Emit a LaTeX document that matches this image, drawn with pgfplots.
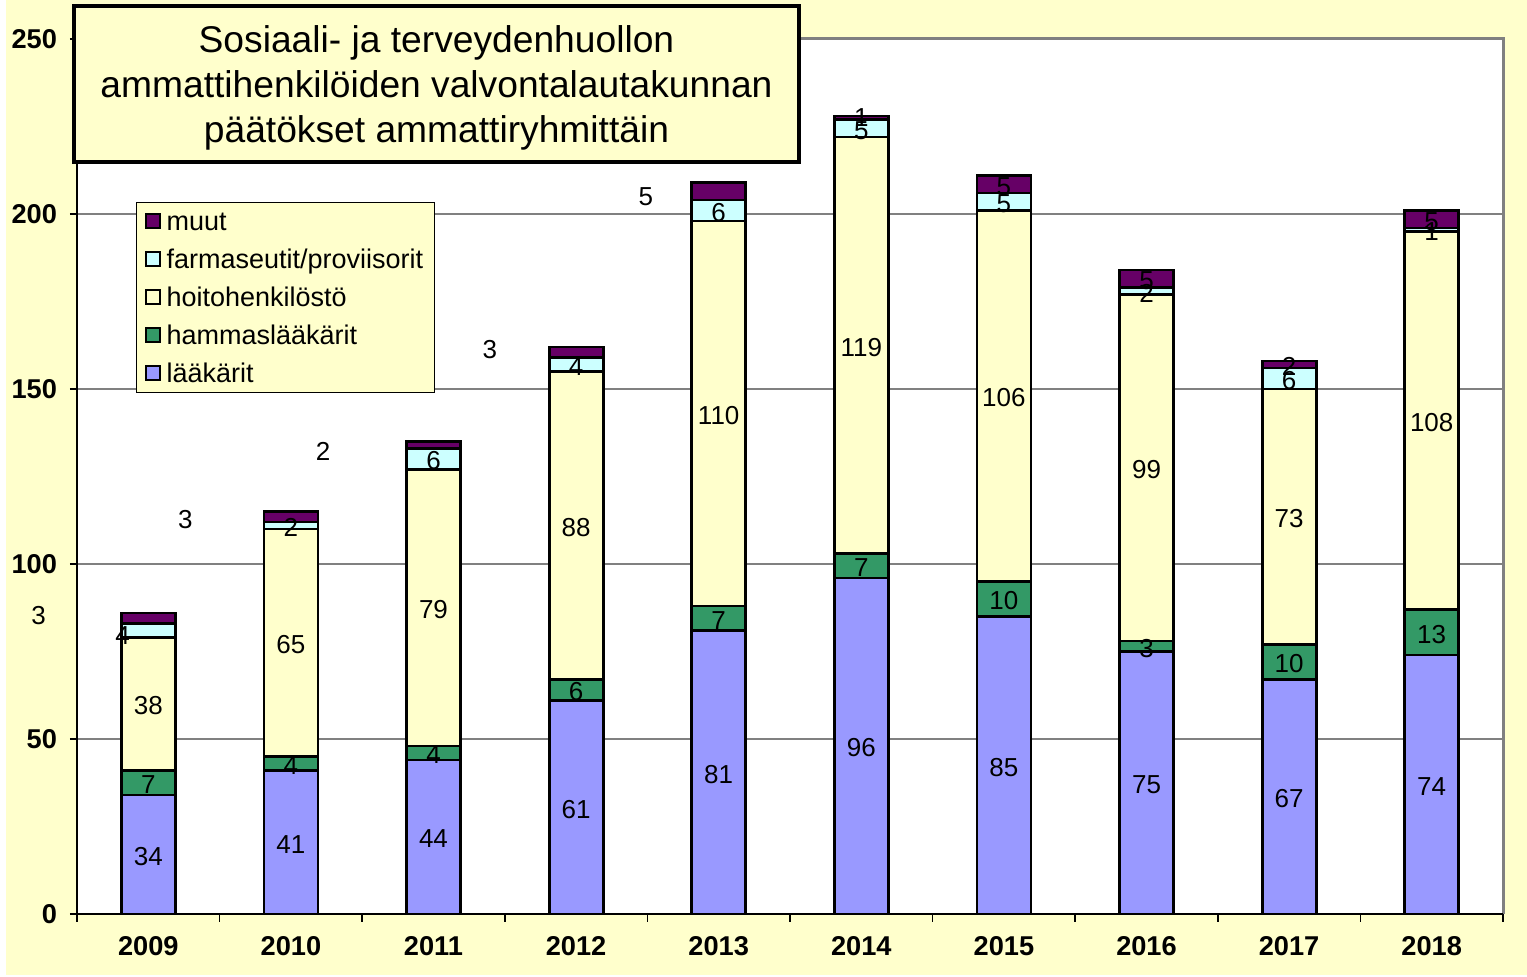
\documentclass[border=0pt]{standalone}
\usepackage{pgfplots}
\usepackage{pgfplotstable}
\pgfplotsset{compat=1.18}
\usepackage{fontspec}
\setmainfont{Liberation Sans}
\definecolor{bgyellow}{HTML}{FFFFCC}
\definecolor{lak}{HTML}{9999FF}
\definecolor{ham}{HTML}{339966}
\definecolor{hoi}{HTML}{FFFFCC}
\definecolor{far}{HTML}{CCFFFF}
\definecolor{muu}{HTML}{660066}
\definecolor{gridgray}{HTML}{808080}
\tikzset{lbl/.style={font=\fontsize{13}{15}\selectfont, inner sep=0pt, yshift=-1pt}}
\pgfplotsset{geom/.style={at={(38.5pt,31.5pt)}, anchor=south west,
  scale only axis, width=713pt, height=437.5pt,
  xmin=-0.5, xmax=9.5, ymin=0, ymax=250, clip=false}}

\pgfplotstableread{
x lak ham hoi far muu
0 34 7 38 4 3
1 41 4 65 2 3
2 44 4 79 6 2
3 61 6 88 4 3
4 81 7 110 6 5
5 96 7 119 5 1
6 85 10 106 5 5
7 75 3 99 2 5
8 67 10 73 6 2
9 74 13 108 1 5
}\data

\begin{document}
\begin{tikzpicture}
\fill[white] (0,0) rectangle (763.5pt,488.5pt);
\fill[bgyellow] (3pt,1pt) rectangle (763.5pt,488.5pt);
\begin{axis}[
  geom,
  ybar stacked, bar width=27pt,
  xtick={0,...,9},
  xticklabels={2009,2010,2011,2012,2013,2014,2015,2016,2017,2018},
  minor xtick={-0.5,0.5,...,9.5},
  ytick={0,50,...,250},
  xtick pos=bottom, ytick pos=left,
  tick align=outside,
  major tick length=3.5pt, minor tick length=4pt,
  major x tick style={draw=none},
  tick style={black, line width=0.8pt},
  ymajorgrids, major grid style={gridgray, line width=1pt},
  axis line style={draw=none},
  axis background/.style={fill=white},
  /pgf/number format/assume math mode=true,
  yticklabel style={font=\bfseries\fontsize{13.6}{15}\selectfont, xshift=-3pt},
  xticklabel style={font=\bfseries\fontsize{13.6}{15}\selectfont, yshift=-4pt},
  legend style={at={(0.0414,0.8137)}, anchor=north west, fill=bgyellow,
    draw=black, line width=0.5pt, font=\fontsize{13.5}{16}\selectfont,
    cells={anchor=west}, inner xsep=4pt, inner ysep=0pt, row sep=0pt,
    nodes={text height=11pt, text depth=1.5pt, inner ysep=3.25pt, inner xsep=1.5pt},
    /tikz/every odd column/.append style={column sep=1.5pt}},
  legend image code/.code={\draw[#1, line width=1pt] (0pt,-3.5pt) rectangle (7pt,3.5pt);},
  reverse legend,
]
\addplot[fill=lak, draw=black, line width=1.4pt] table[x=x, y=lak]{\data};
\addplot[fill=ham, draw=black, line width=1.4pt] table[x=x, y=ham]{\data};
\addplot[fill=hoi, draw=black, line width=1.4pt] table[x=x, y=hoi]{\data};
\addplot[fill=far, draw=black, line width=1.4pt] table[x=x, y=far]{\data};
\addplot[fill=muu, draw=black, line width=1.4pt] table[x=x, y=muu]{\data};
\legend{lääkärit, hammaslääkärit, hoitohenkilöstö, farmaseutit/proviisorit, muut}
\end{axis}

\begin{axis}[geom, hide axis]
\draw[gridgray, line width=1.5pt] (rel axis cs:0,1) -- (rel axis cs:1,1) -- (rel axis cs:1,0);
\draw[black, line width=1pt] (rel axis cs:0,1) -- (rel axis cs:0,0) -- (rel axis cs:1,0);
% 2009
\node[lbl] at (axis cs:0,17) {34};
\node[lbl] at (axis cs:0,37.5) {7};
\node[lbl] at (axis cs:0,60) {38};
\node[lbl] at (axis cs:-0.18,80) {4};
\node[lbl] at (axis cs:-0.77,85.7) {3};
% 2010
\node[lbl] at (axis cs:1,20.5) {41};
\node[lbl] at (axis cs:1,43) {4};
\node[lbl] at (axis cs:1,77.5) {65};
\node[lbl] at (axis cs:1,111) {2};
\node[lbl] at (axis cs:0.26,113.4) {3};
% 2011
\node[lbl] at (axis cs:2,22) {44};
\node[lbl] at (axis cs:2,46) {4};
\node[lbl] at (axis cs:2,87.5) {79};
\node[lbl] at (axis cs:2,130) {6};
\node[lbl] at (axis cs:1.225,132.6) {2};
% 2012
\node[lbl] at (axis cs:3,30.5) {61};
\node[lbl] at (axis cs:3,64) {6};
\node[lbl] at (axis cs:3,111) {88};
\node[lbl] at (axis cs:3,157) {4};
\node[lbl] at (axis cs:2.396,161.7) {3};
% 2013
\node[lbl] at (axis cs:4,40.5) {81};
\node[lbl] at (axis cs:4,84.5) {7};
\node[lbl] at (axis cs:4,143) {110};
\node[lbl] at (axis cs:4,201) {6};
\node[lbl] at (axis cs:3.49,205.4) {5};
% 2014
\node[lbl] at (axis cs:5,48) {96};
\node[lbl] at (axis cs:5,99.5) {7};
\node[lbl] at (axis cs:5,162.5) {119};
\node[lbl] at (axis cs:5,224.5) {5};
\node[lbl] at (axis cs:5,228) {1};
% 2015
\node[lbl] at (axis cs:6,42.5) {85};
\node[lbl] at (axis cs:6,90) {10};
\node[lbl] at (axis cs:6,148) {106};
\node[lbl] at (axis cs:6,203.5) {5};
\node[lbl] at (axis cs:6,208.5) {5};
% 2016
\node[lbl] at (axis cs:7,37.5) {75};
\node[lbl] at (axis cs:7,76.5) {3};
\node[lbl] at (axis cs:7,127.5) {99};
\node[lbl] at (axis cs:7,178) {2};
\node[lbl] at (axis cs:7,181.5) {5};
% 2017
\node[lbl] at (axis cs:8,33.5) {67};
\node[lbl] at (axis cs:8,72) {10};
\node[lbl] at (axis cs:8,113.5) {73};
\node[lbl] at (axis cs:8,153) {6};
\node[lbl] at (axis cs:8,157) {2};
% 2018
\node[lbl] at (axis cs:9,37) {74};
\node[lbl] at (axis cs:9,80.5) {13};
\node[lbl] at (axis cs:9,141) {108};
\node[lbl] at (axis cs:9,195.5) {1};
\node[lbl] at (axis cs:9,198.5) {5};
\end{axis}
\node[draw=black, line width=2pt, fill=bgyellow, minimum width=362.5pt,
  minimum height=78pt, align=center, inner sep=0pt,
  font=\fontsize{18.6}{22.5}\selectfont] at (218.25pt,446.5pt) {};
\node[align=center, inner sep=0pt, font=\fontsize{18.6}{22.5}\selectfont]
  at (218.25pt,444.5pt)
  {Sosiaali- ja terveydenhuollon\\ammattihenkilöiden valvontalautakunnan\\päätökset ammattiryhmittäin};
\end{tikzpicture}
\end{document}
